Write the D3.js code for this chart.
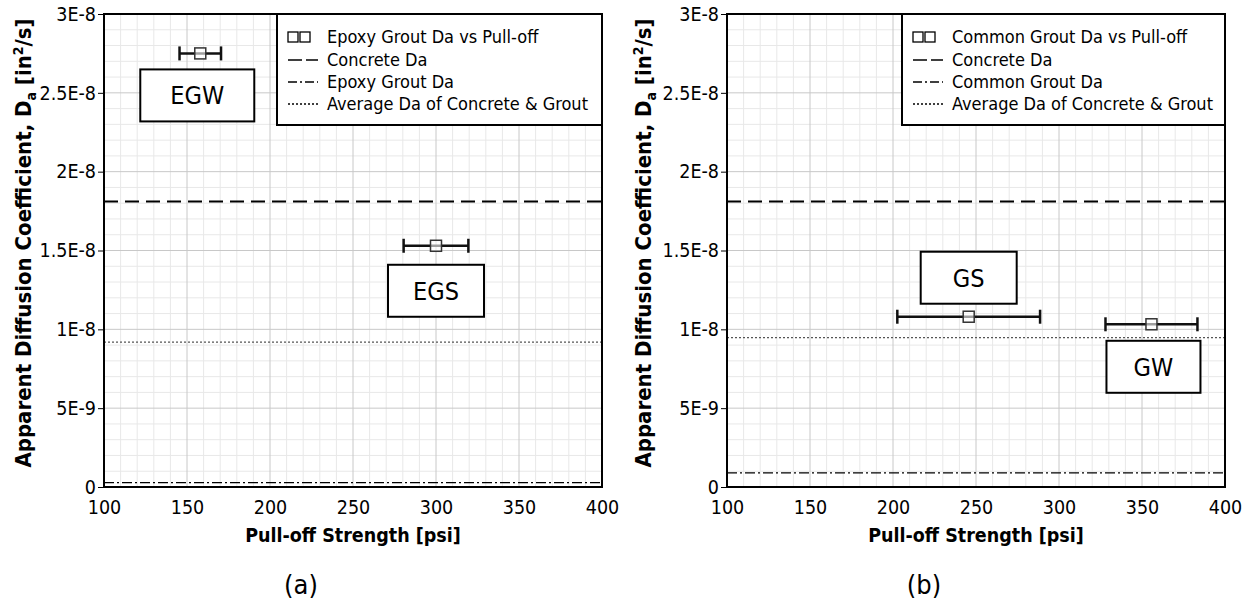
<!DOCTYPE html>
<html>
<head>
<meta charset="utf-8">
<script src="https://cdn.jsdelivr.net/npm/d3@7"></script>
<style>
  body { margin: 0; background: #fff; }
  svg { font-family: "DejaVu Sans", sans-serif; font-stretch: condensed; }
</style>
</head>
<body>
<svg id="chart" width="1244" height="601"></svg>
<script>
// axis ticks and labels
const xTicks = [100, 150, 200, 250, 300, 350, 400];
const yTicks = [0, 5e-9, 1e-8, 1.5e-8, 2e-8, 2.5e-8, 3e-8];
const yTickLabels = ["0", "5E-9", "1E-8", "1.5E-8", "2E-8", "2.5E-8", "3E-8"];

// panel (a) epoxy grout
const epoxyNames = ["EGW", "EGS"];
const epoxyStrength = [158, 300];
const epoxyStrengthErr = [12.5, 19.5];
const epoxyDa = [2.75e-8, 1.53e-8];
const epoxyGroutDa = 2.8e-10;
const epoxyAvgDa = 9.19e-9;

// panel (b) common grout
const commonNames = ["GS", "GW"];
const commonStrength = [245.6, 355.7];
const commonStrengthErr = [43, 27.7];
const commonDa = [1.08e-8, 1.032e-8];
const commonGroutDa = 9e-10;
const commonAvgDa = 9.47e-9;

const concreteDa = 1.81e-8;

const svg = d3.select("#chart");

function drawPanel(opt) {
    const x = d3.scaleLinear().domain([100, 400]).range([opt.left, opt.right]);
    const y = d3.scaleLinear().domain([0, 3e-8]).range([487, 14]);
    const g = svg.append("g");

    // minor grid
    g.selectAll(".vminor").data(d3.range(110, 400, 10).filter(v => v % 50 !== 0))
        .enter().append("line")
        .attr("x1", d => x(d)).attr("x2", d => x(d))
        .attr("y1", y(0)).attr("y2", y(3e-8))
        .attr("stroke", "#e8e8e8").attr("stroke-width", 1);
    g.selectAll(".hminor").data(d3.range(1, 30).filter(v => v % 5 !== 0).map(v => v * 1e-9))
        .enter().append("line")
        .attr("x1", x(100)).attr("x2", x(400))
        .attr("y1", d => y(d)).attr("y2", d => y(d))
        .attr("stroke", "#e8e8e8").attr("stroke-width", 1);
    // major grid
    g.selectAll(".vmajor").data(xTicks.slice(1, -1))
        .enter().append("line")
        .attr("x1", d => x(d)).attr("x2", d => x(d))
        .attr("y1", y(0)).attr("y2", y(3e-8))
        .attr("stroke", "#c8c8c8").attr("stroke-width", 1);
    g.selectAll(".hmajor").data(yTicks.slice(1, -1))
        .enter().append("line")
        .attr("x1", x(100)).attr("x2", x(400))
        .attr("y1", d => y(d)).attr("y2", d => y(d))
        .attr("stroke", "#c8c8c8").attr("stroke-width", 1);

    // axes
    const yAxis = d3.axisLeft(y).tickValues(yTicks)
        .tickFormat((d, i) => yTickLabels[i]).tickSizeInner(6).tickSizeOuter(0);
    const ya = g.append("g").attr("transform", `translate(${x(100)},0)`).call(yAxis);
    ya.select(".domain").remove();
    ya.selectAll("text").attr("font-size", 19.5).attr("fill", "#000")
        .attr("font-family", "DejaVu Sans").attr("x", -8);
    ya.selectAll("line").attr("stroke", "#000");

    const xAxis = d3.axisBottom(x).tickValues(xTicks).tickFormat(d3.format("d"))
        .tickSize(0).tickPadding(13);
    const xa = g.append("g").attr("transform", `translate(0,${y(0)})`).call(xAxis);
    xa.select(".domain").remove();
    xa.selectAll("text").attr("font-size", 19.5).attr("fill", "#000")
        .attr("font-family", "DejaVu Sans");

    // reference lines
    const refs = [
        {v: concreteDa, dash: "14,7", w: 2, c: "#000"},
        {v: opt.groutDa, dash: "10,3,2,3", w: 1.3, c: "#000"},
        {v: opt.avgDa, dash: "2,2", w: 1.3, c: "#555"}
    ];
    g.selectAll(".ref").data(refs).enter().append("line")
        .attr("x1", x(100)).attr("x2", x(400))
        .attr("y1", d => y(d.v)).attr("y2", d => y(d.v))
        .attr("stroke", d => d.c).attr("stroke-width", d => d.w)
        .attr("stroke-dasharray", d => d.dash);

    // plot frame
    g.append("rect")
        .attr("x", x(100)).attr("y", y(3e-8))
        .attr("width", x(400) - x(100)).attr("height", y(0) - y(3e-8))
        .attr("fill", "none").attr("stroke", "#000").attr("stroke-width", 2);

    // error bars and points
    const pts = opt.names.map((n, i) => ({
        name: n, s: opt.strength[i], e: opt.err[i], da: opt.da[i], box: opt.boxes[i]
    }));
    const pg = g.selectAll(".pt").data(pts).enter().append("g");
    pg.append("line")
        .attr("x1", d => x(d.s - d.e)).attr("x2", d => x(d.s + d.e))
        .attr("y1", d => y(d.da)).attr("y2", d => y(d.da))
        .attr("stroke", "#111").attr("stroke-width", 2.5);
    [-1, 1].forEach(sgn => {
        pg.append("line")
            .attr("x1", d => x(d.s + sgn * d.e)).attr("x2", d => x(d.s + sgn * d.e))
            .attr("y1", d => y(d.da) - 7).attr("y2", d => y(d.da) + 7)
            .attr("stroke", "#111").attr("stroke-width", 2.5);
    });
    pg.append("rect")
        .attr("x", d => x(d.s) - 5.5).attr("y", d => y(d.da) - 5.5)
        .attr("width", 11).attr("height", 11)
        .attr("fill", "#fff").attr("fill-opacity", 0.6)
        .attr("stroke", "#333").attr("stroke-width", 1.5);

    // name boxes
    pg.append("rect")
        .attr("x", d => x(d.s) + d.box.dx - d.box.w / 2)
        .attr("y", d => y(d.da) + d.box.dy)
        .attr("width", d => d.box.w).attr("height", 52)
        .attr("fill", "#fff").attr("stroke", "#000").attr("stroke-width", 2);
    pg.append("text")
        .attr("x", d => x(d.s) + d.box.dx)
        .attr("y", d => y(d.da) + d.box.dy + 26)
        .attr("dy", "0.36em")
        .attr("text-anchor", "middle")
        .attr("font-size", 25)
        .text(d => d.name);

    // legend
    const lx = opt.legendLeft, lr = x(400);
    g.append("rect").attr("x", lx).attr("y", y(3e-8))
        .attr("width", lr - lx).attr("height", 111)
        .attr("fill", "#fff").attr("stroke", "#000").attr("stroke-width", 2);
    const rows = [37, 60, 82, 104];
    const sx = lx + 11;
    // squares
    [0, 12].forEach(o => {
        g.append("rect").attr("x", sx + o).attr("y", rows[0] - 5)
            .attr("width", 10).attr("height", 10)
            .attr("fill", "none").attr("stroke", "#000").attr("stroke-width", 1.3);
    });
    g.append("line").attr("x1", sx).attr("x2", sx + 30).attr("y1", rows[1]).attr("y2", rows[1])
        .attr("stroke", "#000").attr("stroke-width", 1.3).attr("stroke-dasharray", "14,4");
    g.append("line").attr("x1", sx).attr("x2", sx + 30).attr("y1", rows[2]).attr("y2", rows[2])
        .attr("stroke", "#000").attr("stroke-width", 1.3).attr("stroke-dasharray", "9,3,2,3");
    g.append("line").attr("x1", sx).attr("x2", sx + 30).attr("y1", rows[3]).attr("y2", rows[3])
        .attr("stroke", "#000").attr("stroke-width", 1.3).attr("stroke-dasharray", "2,2");
    const ltext = [opt.seriesLabel, "Concrete Da", opt.groutLabel, "Average Da of Concrete & Grout"];
    g.selectAll(".lt").data(ltext).enter().append("text")
        .attr("x", lx + 50).attr("y", (d, i) => rows[i]).attr("dy", "0.35em")
        .attr("font-size", 18).text(d => d);

    // axis titles
    g.append("text")
        .attr("x", (x(100) + x(400)) / 2).attr("y", 542)
        .attr("text-anchor", "middle").attr("font-weight", "bold").attr("font-size", 19.5)
        .text("Pull-off Strength [psi]");
    const yt = g.append("text")
        .attr("transform", `translate(${opt.titleX},243) rotate(-90)`)
        .attr("text-anchor", "middle").attr("font-weight", "bold").attr("font-size", 22)
        .attr("dy", "0.35em");
    yt.append("tspan").text("Apparent Diffusion Coefficient, D");
    yt.append("tspan").attr("font-size", 14).attr("dy", 5).text("a");
    yt.append("tspan").attr("dy", -5).text(" [in");
    yt.append("tspan").attr("font-size", 14).attr("dy", -8).text("2");
    yt.append("tspan").attr("dy", 8).text("/s]");

    // panel label
    g.append("text")
        .attr("x", (x(100) + x(400)) / 2 - 52).attr("y", 585).attr("dy", "0.35em")
        .attr("text-anchor", "middle").attr("font-size", 27)
        .text(opt.panel);
}

drawPanel({
    left: 104, right: 602, legendLeft: 277, titleX: 23, panel: "(a)",
    names: epoxyNames, strength: epoxyStrength, err: epoxyStrengthErr, da: epoxyDa,
    groutDa: epoxyGroutDa, avgDa: epoxyAvgDa,
    seriesLabel: "Epoxy Grout Da vs Pull-off", groutLabel: "Epoxy Grout Da",
    boxes: [{dx: -3, dy: 16, w: 114}, {dx: 0, dy: 19, w: 96}]
});
drawPanel({
    left: 727, right: 1225, legendLeft: 902, titleX: 643, panel: "(b)",
    names: commonNames, strength: commonStrength, err: commonStrengthErr, da: commonDa,
    groutDa: commonGroutDa, avgDa: commonAvgDa,
    seriesLabel: "Common Grout Da vs Pull-off", groutLabel: "Common Grout Da",
    boxes: [{dx: 0, dy: -65, w: 96}, {dx: 2, dy: 16.5, w: 94}]
});
</script>
</body>
</html>
